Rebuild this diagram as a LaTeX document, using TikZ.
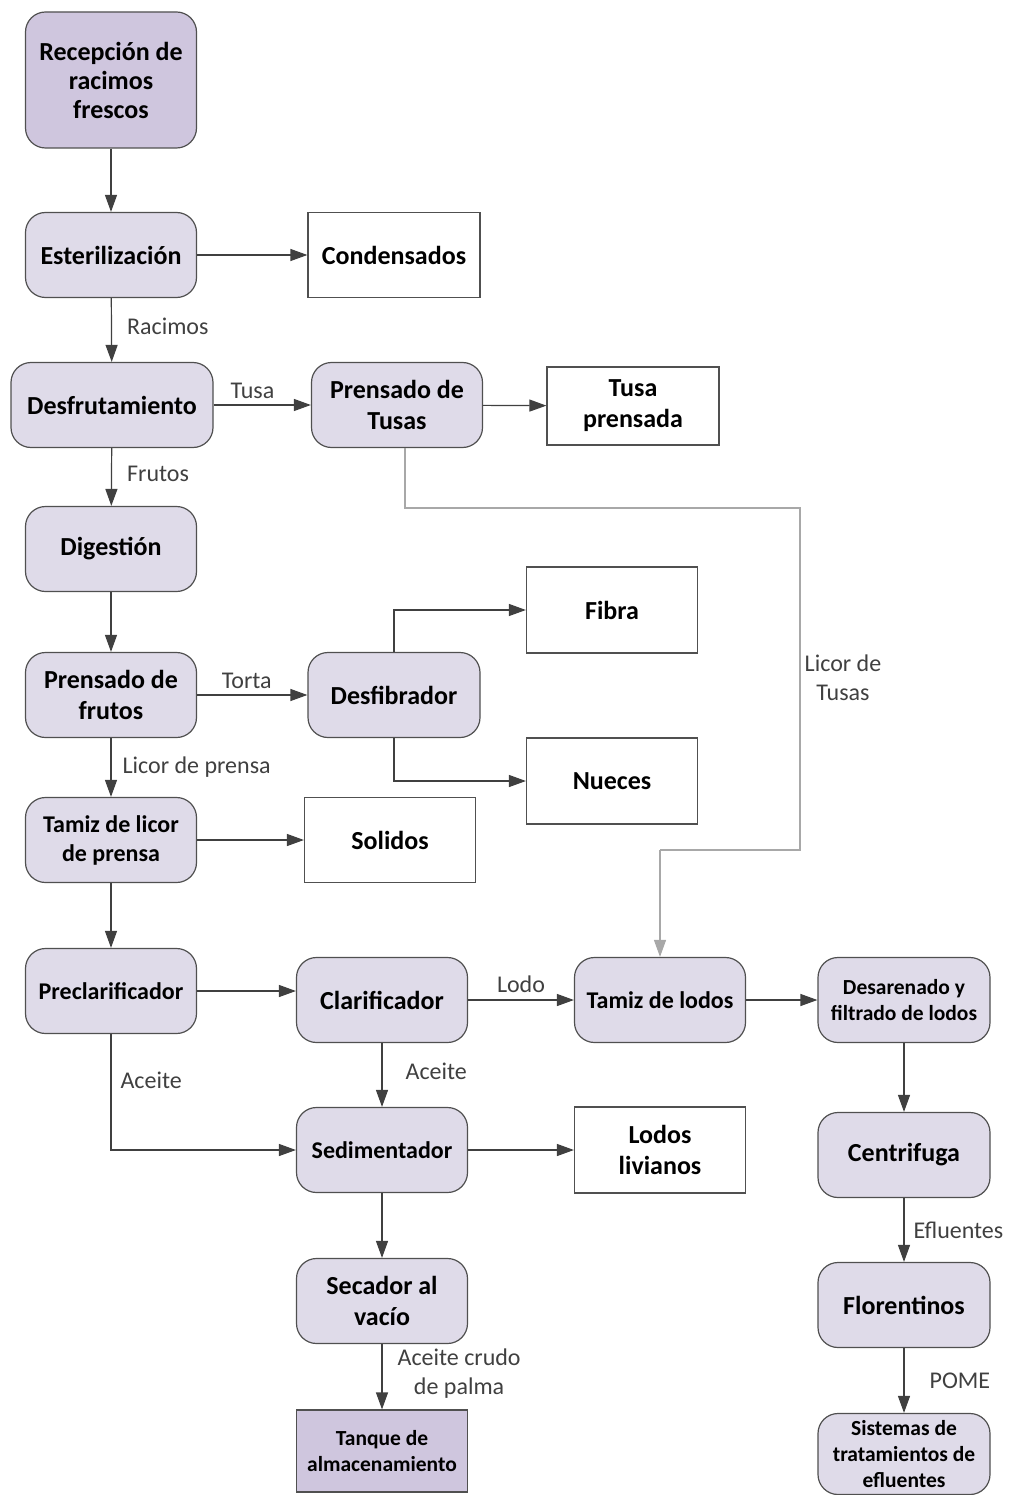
\documentclass[tikz,border=0pt]{standalone}
\usepackage{fontspec}
\setmainfont{Carlito}
\usetikzlibrary{arrows.meta,positioning}
\definecolor{procfill}{HTML}{DFDBE9}
\definecolor{darkfill}{HTML}{CFC6DE}
\definecolor{edgecol}{HTML}{505050}
\definecolor{linecol}{HTML}{404040}
\definecolor{lightline}{HTML}{A8A8A8}
\definecolor{labcol}{HTML}{404040}
\tikzset{
  proc/.style={draw=edgecol, line width=1.2pt, fill=procfill, rounded corners=20pt,
    minimum width=171pt, minimum height=85pt, align=center, inner sep=1pt,
    font=\fontsize{26}{31}\selectfont\bfseries},
  procdark/.style={proc, fill=darkfill},
  outbox/.style={draw=edgecol, line width=1.2pt, fill=white,
    minimum width=171pt, minimum height=85pt, align=center, inner sep=1pt,
    font=\fontsize{26}{31}\selectfont\bfseries},
  midfont/.style={font=\fontsize{24}{29}\selectfont\bfseries},
  smallfont/.style={font=\fontsize{21.5}{26}\selectfont\bfseries},
  flow/.style={draw=linecol, line width=1.2pt, -{Triangle[length=17pt,width=12pt]}},
  lflow/.style={draw=lightline, line width=1.2pt, -{Triangle[length=17pt,width=12pt]}},
  lab/.style={text=labcol, font=\fontsize{24}{29}\selectfont, align=center, inner sep=1pt},
}
\begin{document}
\begin{tikzpicture}[x=1pt,y=-1pt]
\useasboundingbox (0,0) rectangle (1010,1495);
% nodes
\node[procdark, minimum height=136pt, font=\fontsize{26}{29}\selectfont\bfseries] (rec) at (111,80) {Recepción de\\racimos\\frescos};
\node[proc] (est) at (111,255) {Esterilización};
\node[outbox, minimum width=172pt] (con) at (394,255) {Condensados};
\node[proc, minimum width=202pt] (des) at (112,405) {Desfrutamiento};
\node[proc] (pta) at (397,405) {Prensado de\\Tusas};
\node[outbox, minimum height=78pt, minimum width=172pt] (tpr) at (633,406) {Tusa\\prensada};
\node[proc] (dig) at (111,549) {Digestión};
\node[proc] (pfr) at (111,695) {Prensado de\\frutos};
\node[proc, minimum width=172pt] (dfb) at (394,695) {Desfibrador};
\node[outbox, minimum height=86pt] (fib) at (612,610) {Fibra};
\node[outbox, minimum height=86pt] (nue) at (612,781) {Nueces};
\node[proc, midfont] (tam) at (111,840) {Tamiz de licor\\de prensa};
\node[outbox] (sol) at (390,840) {Solidos};
\node[proc, midfont] (pre) at (111,991) {Preclarificador};
\node[proc] (cla) at (382,1000) {Clarificador};
\node[proc, midfont] (tlo) at (660,1000) {Tamiz de lodos};
\node[proc, minimum width=172pt, smallfont] (dsa) at (904,1000) {Desarenado y\\filtrado de lodos};
\node[proc, midfont] (sed) at (382,1150) {Sedimentador};
\node[outbox, minimum height=86pt] (lli) at (660,1150) {Lodos\\livianos};
\node[proc, minimum width=172pt] (cen) at (904,1155) {Centrifuga};
\node[proc] (sec) at (382,1301) {Secador al\\vacío};
\node[proc, minimum width=172pt] (flo) at (904,1305) {Florentinos};
\node[procdark, rounded corners=0pt, minimum height=82pt, smallfont] (tan) at (382,1451) {Tanque de\\almacenamiento};
\node[proc, minimum width=172pt, minimum height=81pt, smallfont] (sis) at (904,1454) {Sistemas de\\tratamientos de\\efluentes};
% coordinates for bends
\coordinate (lt1) at (405,508);
\coordinate (lt2) at (800,508);
\coordinate (lt3) at (800,850);
\coordinate (lt4) at (660,850);
% connectors
\draw[flow] (rec) -- (est);
\draw[flow] (est) -- (con);
\draw[flow] (est) -- node[lab, right=14pt, pos=0.45] {Racimos} (des);
\draw[flow] (des) -- node[lab, above=5pt, pos=0.4] {Tusa} (pta);
\draw[flow] (pta) -- (tpr);
\draw[lightline, line width=1.2pt] (pta.south -| lt1) -- (lt1) -- (lt2) -- (lt3) -- (lt4);
\draw[lflow] (lt4) -- (tlo.north);
\node[lab] (ltlab) at (843,678) {Licor de\\Tusas};
\draw[flow] (des) -- node[lab, right=14pt, pos=0.45] {Frutos} (dig);
\draw[flow] (dig) -- (pfr);
\draw[flow] (pfr) -- node[lab, above=5pt, pos=0.45] {Torta} (dfb);
\draw[flow] (dfb.north) |- (fib.west);
\draw[flow] (dfb.south) |- (nue.west);
\draw[flow] (pfr) -- node[lab, pos=0.5, anchor=west, xshift=10pt] {Licor de prensa} (tam);
\draw[flow] (tam) -- (sol);
\draw[flow] (tam) -- (pre);
\draw[flow] (pre.east) -- (pre.east -| cla.west);
\draw[flow] (cla) -- node[lab, above=6pt, pos=0.5] {Lodo} (tlo);
\draw[flow] (tlo) -- (dsa);
\draw[flow] (cla) -- node[lab, right=22pt, pos=0.45] {Aceite} (sed);
\draw[flow] (pre.south) |- node[lab, pos=0.2, right=8pt] {Aceite} (sed.west);
\draw[flow] (sed) -- (lli);
\draw[flow] (sed) -- (sec);
\draw[flow] (sec) -- node[lab, right=14pt, pos=0.45] {Aceite crudo\\de palma} (tan);
\draw[flow] (dsa) -- (cen);
\draw[flow] (cen) -- node[lab, right=8pt, pos=0.5] {Efluentes} (flo);
\draw[flow] (flo) -- node[lab, right=24pt, pos=0.5] {POME} (sis);
\end{tikzpicture}
\end{document}
